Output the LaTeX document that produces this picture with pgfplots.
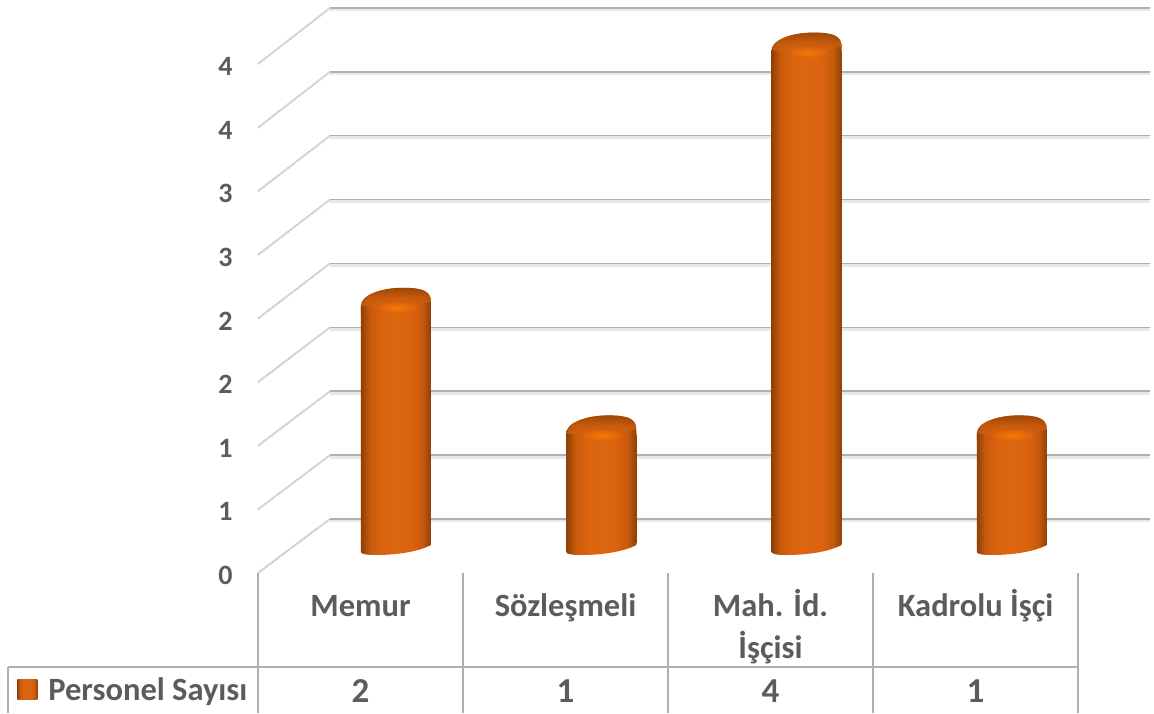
\documentclass[border=0pt]{standalone}
\usepackage{fontspec}
\setmainfont{Carlito}
\usepackage{pgfplots}
\usepackage{pgfplotstable}
\pgfplotsset{compat=1.18}
\definecolor{txt}{HTML}{5C5C5C}
\definecolor{gridc}{HTML}{B0B0B0}
\definecolor{edge}{HTML}{8F4006}
\definecolor{body}{HTML}{D8620E}
\definecolor{bodyb}{HTML}{DD6710}
\pgfdeclarehorizontalshading{cyl}{100bp}{color(0bp)=(edge); color(25bp)=(edge); color(31bp)=(body!75!edge); color(38bp)=(body); color(50bp)=(bodyb); color(62bp)=(body); color(69bp)=(body!75!edge); color(75bp)=(edge); color(100bp)=(edge)}
\pgfdeclareverticalshading{captop}{100bp}{color(0bp)=(body); color(25bp)=(body); color(50bp)=(body!75!edge); color(75bp)=(edge); color(100bp)=(edge)}
\pgfdeclareradialshading{glow}{\pgfpointorigin}{color(0bp)=(orange!75!body); color(10bp)=(orange!45!body); color(25bp)=(body); color(50bp)=(body)}
% rounded top of a bar, origin at its highest point
\pgfdeclareplotmark{cyltop}{
  \path[draw=none,shade,shading=cyl] (-35pt,-26pt) -- (-35pt,-18pt) .. controls (-35pt,-7pt) and (-15pt,0pt) .. (7pt,0pt)
    .. controls (26pt,0pt) and (35pt,-3pt) .. (35pt,-14pt) -- (35pt,-26pt) -- cycle;
  \path[draw=none,shade,shading=captop,opacity=.8] (-34pt,-18pt) .. controls (-33pt,-7pt) and (-15pt,0pt) .. (7pt,0pt)
    .. controls (26pt,0pt) and (35pt,-3pt) .. (35pt,-14pt) .. controls (18pt,-18pt) and (-15pt,-20pt) .. cycle;
  \path[draw=none,shade,shading=glow] (1pt,-20pt) ellipse (20pt and 6pt);
}
% rounded foot of a bar, origin on its axis at y=0
\pgfdeclareplotmark{cylfoot}{
  \path[draw=none,shade,shading=cyl] (-35pt,1pt) -- (35pt,1pt) -- (35pt,-2pt) .. controls (22pt,-9pt) and (0pt,-12pt) .. (-20pt,-12pt)
    .. controls (-30pt,-12pt) and (-35pt,-11pt) .. (-35pt,-9pt) -- cycle;
}
\pgfplotstableread{
x y
-0.149 0.4244
3.851 0.4244
0 nan
-0.149 0.9263
3.851 0.9263
0 nan
-0.149 1.4283
3.851 1.4283
0 nan
-0.149 1.9303
3.851 1.9303
0 nan
-0.149 2.4322
3.851 2.4322
0 nan
-0.149 2.9342
3.851 2.9342
0 nan
-0.149 3.4361
3.851 3.4361
0 nan
-0.149 3.9381
3.851 3.9381
0 nan
-0.149 4.44
3.851 4.44
}\gridlines
\begin{document}
\begin{tikzpicture}
\useasboundingbox (0,0) rectangle (1154pt,713pt);
% wall, grid, tick labels and data table
\begin{axis}[
  at={(258pt,140pt)}, anchor=south west,
  scale only axis, width=892pt, height=565pt,
  xmin=-0.5, xmax=3.851, ymin=0, ymax=4.44,
  clip=false,
  axis line style={draw=none},
  major tick length=0pt,
  xtick={0,1,2,3},
  xticklabels={\vphantom{İg}Memur,\vphantom{İg}Sözleşmeli,{\vphantom{İg}Mah. İd.\\İşçisi},\vphantom{İg}Kadrolu İşçi},
  ytick={0,0.5,1,1.5,2,2.5,3,3.5,4},
  yticklabels={0,1,1,2,2,3,3,4,4},
  xticklabel style={align=center,font=\fontsize{32.5}{42}\selectfont\bfseries,text=txt,anchor=north,yshift=-13pt},
  yticklabel style={font=\fontsize{28}{32}\selectfont\bfseries,text=txt,anchor=east,xshift=-22pt,yshift=-2.5pt},
  /pgf/number format/assume math mode=true,
]
\addplot[black!9,line width=4pt,yshift=-1.5pt,unbounded coords=jump] table[x=x,y=y] {\gridlines};
\addplot[gridc,line width=1.5pt,unbounded coords=jump] table[x=x,y=y] {\gridlines};
\addplot[gridc!70,line width=2pt,dash pattern=on 1.5pt off 0.7pt,unbounded coords=jump] coordinates {
  (-0.5,0) (-0.149,0.4244) (0,nan)
  (-0.5,0.5) (-0.149,0.9263) (0,nan)
  (-0.5,1) (-0.149,1.4283) (0,nan)
  (-0.5,1.5) (-0.149,1.9303) (0,nan)
  (-0.5,2) (-0.149,2.4322) (0,nan)
  (-0.5,2.5) (-0.149,2.9342) (0,nan)
  (-0.5,3) (-0.149,3.4361) (0,nan)
  (-0.5,3.5) (-0.149,3.9381) (0,nan)
  (-0.5,4) (-0.149,4.44)
};
% table lines
\addplot[gridc,line width=1.8pt,unbounded coords=jump] coordinates {
  (-0.5,0) (-0.5,-1.1002) (0,nan)
  (0.5,0) (0.5,-1.1002) (0,nan)
  (1.5,0) (1.5,-1.1002) (0,nan)
  (2.5,0) (2.5,-1.1002) (0,nan)
  (3.5,0) (3.5,-1.1002) (0,nan)
  (-1.72,-0.7387) (3.5,-0.7387) (0,nan)
  (-1.72,-0.7387) (-1.72,-1.1002)
};
\node[font=\fontsize{35}{40}\selectfont\bfseries,text=txt] at (axis cs:0,-0.927) {2};
\node[font=\fontsize{35}{40}\selectfont\bfseries,text=txt] at (axis cs:1,-0.927) {1};
\node[font=\fontsize{35}{40}\selectfont\bfseries,text=txt] at (axis cs:2,-0.927) {4};
\node[font=\fontsize{35}{40}\selectfont\bfseries,text=txt] at (axis cs:3,-0.927) {1};
\end{axis}
% bars
\begin{axis}[
  at={(258pt,140pt)}, anchor=south west,
  scale only axis, width=892pt, height=565pt,
  xmin=-0.672, xmax=3.673, ymin=-0.2351, ymax=4.1928,
  clip=false,
  axis line style={draw=none},
  ticks=none,
  legend style={at={(-0.27,-0.207)},anchor=west,draw=none,fill=none,
    font=\fontsize{32.5}{38}\selectfont\bfseries,text=txt,inner sep=0pt},
  legend image code/.code={\path (0pt,0pt) -- (29pt,0pt);\path[draw=none,shade,shading=cyl] (0pt,-10pt) rectangle (20pt,10pt);},
]
\addplot[ybar,bar width=70pt,bar shift=0pt,draw=none,shade,shading=cyl,y filter/.expression={y-0.15}] coordinates {(0,2)};
\addlegendentry{Personel Sayısı}
\addplot[ybar,bar width=70pt,bar shift=0pt,draw=none,shade,shading=cyl,y filter/.expression={y-0.15},forget plot] coordinates {(1,1)};
\addplot[ybar,bar width=70pt,bar shift=0pt,draw=none,shade,shading=cyl,y filter/.expression={y-0.15},forget plot] coordinates {(2,4)};
\addplot[ybar,bar width=70pt,bar shift=0pt,draw=none,shade,shading=cyl,y filter/.expression={y-0.15},forget plot] coordinates {(3,1)};
\addplot[only marks,mark=cylfoot,forget plot] coordinates {(0,0) (1,0) (2,0) (3,0)};
\addplot[only marks,mark=cyltop,forget plot] coordinates {(0,2) (1,1) (2,4) (3,1)};
\end{axis}
\end{tikzpicture}
\end{document}
